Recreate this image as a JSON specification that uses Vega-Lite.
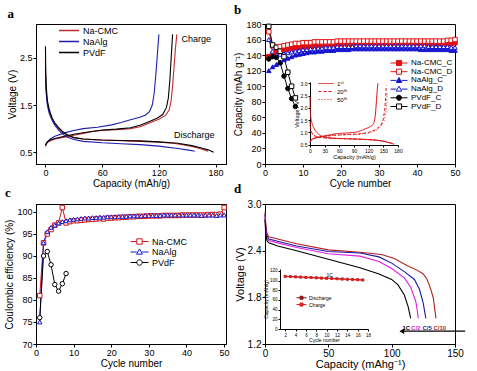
{
 "$schema": "https://vega.github.io/schema/vega-lite/v6.json",
 "background": "white",
 "padding": {"left": 4, "top": 3, "right": 2, "bottom": 2},
 "columns": 2,
 "spacing": {"row": 40, "column": 39},
 "bounds": "flush",
 "resolve": {
  "scale": {"stroke": "independent", "fill": "independent", "shape": "independent", "strokeDash": "independent", "color": "independent"},
  "legend": {"stroke": "independent", "fill": "independent", "shape": "independent", "strokeDash": "independent", "color": "independent"}
 },
 "config": {
  "font": "Liberation Sans",
  "view": {"stroke": "black", "strokeWidth": 1},
  "axis": {"grid": false, "domainColor": "black", "tickColor": "black", "labelColor": "black", "titleColor": "black", "labelFontSize": 9, "titleFontSize": 10, "titleFontWeight": "normal", "tickSize": 3, "labelPadding": 1, "titlePadding": 2, "labelFlush": false, "labelOverlap": false},
  "axisX": {"titlePadding": 1},
  "legend": {"labelColor": "black", "padding": 0, "titlePadding": 0},
  "title": {"anchor": "start", "font": "Liberation Serif", "fontWeight": "bold", "fontSize": 13, "offset": 3, "color": "black"}
 },
 "concat": [
  {
   "width": 190, "height": 140,
   "title": {"text": "a"},
   "layer": [
    {
     "data": {"values": [
      {"b":"Na-CMC","s":"D","x":0,"y":2.45},{"b":"Na-CMC","s":"D","x":0.3,"y":2.0},{"b":"Na-CMC","s":"D","x":1,"y":1.75},{"b":"Na-CMC","s":"D","x":2,"y":1.55},{"b":"Na-CMC","s":"D","x":4,"y":1.38},{"b":"Na-CMC","s":"D","x":7,"y":1.22},{"b":"Na-CMC","s":"D","x":10,"y":1.1},{"b":"Na-CMC","s":"D","x":14,"y":1.0},{"b":"Na-CMC","s":"D","x":18,"y":0.92},{"b":"Na-CMC","s":"D","x":23,"y":0.86},{"b":"Na-CMC","s":"D","x":30,"y":0.81},{"b":"Na-CMC","s":"D","x":40,"y":0.78},{"b":"Na-CMC","s":"D","x":55,"y":0.76},{"b":"Na-CMC","s":"D","x":75,"y":0.75},{"b":"Na-CMC","s":"D","x":100,"y":0.73},{"b":"Na-CMC","s":"D","x":120,"y":0.71},{"b":"Na-CMC","s":"D","x":135,"y":0.69},{"b":"Na-CMC","s":"D","x":145,"y":0.66},{"b":"Na-CMC","s":"D","x":155,"y":0.62},{"b":"Na-CMC","s":"D","x":165,"y":0.57},{"b":"Na-CMC","s":"D","x":172,"y":0.52},
      {"b":"Na-CMC","s":"C","x":0,"y":0.62},{"b":"Na-CMC","s":"C","x":1,"y":0.68},{"b":"Na-CMC","s":"C","x":3,"y":0.72},{"b":"Na-CMC","s":"C","x":6,"y":0.75},{"b":"Na-CMC","s":"C","x":10,"y":0.78},{"b":"Na-CMC","s":"C","x":20,"y":0.82},{"b":"Na-CMC","s":"C","x":30,"y":0.86},{"b":"Na-CMC","s":"C","x":40,"y":0.9},{"b":"Na-CMC","s":"C","x":50,"y":0.94},{"b":"Na-CMC","s":"C","x":60,"y":0.96},{"b":"Na-CMC","s":"C","x":75,"y":0.98},{"b":"Na-CMC","s":"C","x":90,"y":1.0},{"b":"Na-CMC","s":"C","x":100,"y":1.04},{"b":"Na-CMC","s":"C","x":110,"y":1.12},{"b":"Na-CMC","s":"C","x":120,"y":1.2},{"b":"Na-CMC","s":"C","x":127,"y":1.28},{"b":"Na-CMC","s":"C","x":131,"y":1.4},{"b":"Na-CMC","s":"C","x":133,"y":1.6},{"b":"Na-CMC","s":"C","x":134.5,"y":1.9},{"b":"Na-CMC","s":"C","x":136,"y":2.3},{"b":"Na-CMC","s":"C","x":137.5,"y":2.7},{"b":"Na-CMC","s":"C","x":139,"y":3.0},
      {"b":"NaAlg","s":"D","x":0,"y":2.3},{"b":"NaAlg","s":"D","x":0.3,"y":1.9},{"b":"NaAlg","s":"D","x":1,"y":1.7},{"b":"NaAlg","s":"D","x":2,"y":1.5},{"b":"NaAlg","s":"D","x":4,"y":1.32},{"b":"NaAlg","s":"D","x":7,"y":1.18},{"b":"NaAlg","s":"D","x":10,"y":1.07},{"b":"NaAlg","s":"D","x":14,"y":0.97},{"b":"NaAlg","s":"D","x":18,"y":0.89},{"b":"NaAlg","s":"D","x":23,"y":0.82},{"b":"NaAlg","s":"D","x":30,"y":0.77},{"b":"NaAlg","s":"D","x":40,"y":0.73},{"b":"NaAlg","s":"D","x":60,"y":0.7},{"b":"NaAlg","s":"D","x":80,"y":0.68},{"b":"NaAlg","s":"D","x":100,"y":0.66},{"b":"NaAlg","s":"D","x":120,"y":0.63},{"b":"NaAlg","s":"D","x":140,"y":0.58},{"b":"NaAlg","s":"D","x":150,"y":0.55},{"b":"NaAlg","s":"D","x":158,"y":0.52},
      {"b":"NaAlg","s":"C","x":0,"y":0.65},{"b":"NaAlg","s":"C","x":2,"y":0.72},{"b":"NaAlg","s":"C","x":5,"y":0.78},{"b":"NaAlg","s":"C","x":10,"y":0.84},{"b":"NaAlg","s":"C","x":20,"y":0.91},{"b":"NaAlg","s":"C","x":30,"y":0.96},{"b":"NaAlg","s":"C","x":40,"y":1.0},{"b":"NaAlg","s":"C","x":55,"y":1.03},{"b":"NaAlg","s":"C","x":70,"y":1.08},{"b":"NaAlg","s":"C","x":80,"y":1.13},{"b":"NaAlg","s":"C","x":90,"y":1.19},{"b":"NaAlg","s":"C","x":100,"y":1.24},{"b":"NaAlg","s":"C","x":106,"y":1.29},{"b":"NaAlg","s":"C","x":110,"y":1.36},{"b":"NaAlg","s":"C","x":113,"y":1.5},{"b":"NaAlg","s":"C","x":115,"y":1.75},{"b":"NaAlg","s":"C","x":117,"y":2.2},{"b":"NaAlg","s":"C","x":118.5,"y":2.6},{"b":"NaAlg","s":"C","x":120,"y":3.0},
      {"b":"PVdF","s":"D","x":0,"y":2.75},{"b":"PVdF","s":"D","x":0.3,"y":2.2},{"b":"PVdF","s":"D","x":1,"y":1.85},{"b":"PVdF","s":"D","x":2,"y":1.6},{"b":"PVdF","s":"D","x":4,"y":1.4},{"b":"PVdF","s":"D","x":7,"y":1.22},{"b":"PVdF","s":"D","x":10,"y":1.12},{"b":"PVdF","s":"D","x":14,"y":1.02},{"b":"PVdF","s":"D","x":18,"y":0.94},{"b":"PVdF","s":"D","x":23,"y":0.87},{"b":"PVdF","s":"D","x":30,"y":0.81},{"b":"PVdF","s":"D","x":40,"y":0.78},{"b":"PVdF","s":"D","x":60,"y":0.76},{"b":"PVdF","s":"D","x":80,"y":0.75},{"b":"PVdF","s":"D","x":100,"y":0.74},{"b":"PVdF","s":"D","x":120,"y":0.72},{"b":"PVdF","s":"D","x":140,"y":0.69},{"b":"PVdF","s":"D","x":155,"y":0.64},{"b":"PVdF","s":"D","x":165,"y":0.59},{"b":"PVdF","s":"D","x":172,"y":0.55},{"b":"PVdF","s":"D","x":178,"y":0.5},
      {"b":"PVdF","s":"C","x":0,"y":0.65},{"b":"PVdF","s":"C","x":2,"y":0.72},{"b":"PVdF","s":"C","x":5,"y":0.76},{"b":"PVdF","s":"C","x":10,"y":0.79},{"b":"PVdF","s":"C","x":20,"y":0.84},{"b":"PVdF","s":"C","x":30,"y":0.88},{"b":"PVdF","s":"C","x":45,"y":0.93},{"b":"PVdF","s":"C","x":60,"y":0.97},{"b":"PVdF","s":"C","x":75,"y":0.99},{"b":"PVdF","s":"C","x":90,"y":1.02},{"b":"PVdF","s":"C","x":100,"y":1.07},{"b":"PVdF","s":"C","x":110,"y":1.15},{"b":"PVdF","s":"C","x":118,"y":1.22},{"b":"PVdF","s":"C","x":124,"y":1.3},{"b":"PVdF","s":"C","x":128,"y":1.45},{"b":"PVdF","s":"C","x":130,"y":1.65},{"b":"PVdF","s":"C","x":131.5,"y":2.0},{"b":"PVdF","s":"C","x":133,"y":2.5},{"b":"PVdF","s":"C","x":134.5,"y":3.0}
     ]},
     "mark": {"type": "line", "strokeWidth": 1.1},
     "encoding": {
      "x": {"field": "x", "type": "quantitative", "scale": {"domain": [-10, 191], "nice": false, "zero": false}, "axis": {"values": [0,30,60,90,120,150,180], "title": "Capacity (mAh/g)"}},
      "y": {"field": "y", "type": "quantitative", "scale": {"domain": [0.25, 3.22], "nice": false, "zero": false}, "axis": {"values": [0.5,1.0,1.5,2.0,2.5,3.0], "format": ".1f", "title": "Voltage (V)"}},
      "stroke": {"field": "b", "type": "nominal", "scale": {"domain": ["Na-CMC","NaAlg","PVdF"], "range": ["#c42a2e","#1f1fae","#000000"]}, "legend": {"orient": "none", "legendX": 22, "legendY": 2, "title": null, "symbolType": "stroke", "symbolSize": 400, "symbolStrokeWidth": 1.5, "labelFontSize": 9, "clipHeight": 9, "rowPadding": 1, "labelOffset": 3}},
      "detail": {"field": "s"}
     }
    },
    {
     "data": {"values": [{"t": "Charge", "x": 144, "y": 2.9}, {"t": "Discharge", "x": 136, "y": 0.86}]},
     "mark": {"type": "text", "align": "left", "fontSize": 9, "color": "black"},
     "encoding": {
      "x": {"field": "x", "type": "quantitative"},
      "y": {"field": "y", "type": "quantitative"},
      "text": {"field": "t"}
     }
    }
   ]
  },
  {
   "width": 190, "height": 140,
   "title": {"text": "b"},
   "layer": [
    {
     "data": {"values": [
      {"n":1,"Na-CMC_C":138,"Na-CMC_D":170,"NaAlg_C":120,"NaAlg_D":160,"PVdF_C":135,"PVdF_D":177},
      {"n":2,"Na-CMC_C":141,"Na-CMC_D":152,"NaAlg_C":125,"NaAlg_D":145,"PVdF_C":138,"PVdF_D":153},
      {"n":3,"Na-CMC_C":144,"Na-CMC_D":150,"NaAlg_C":128,"NaAlg_D":140,"PVdF_C":137,"PVdF_D":150},
      {"n":4,"Na-CMC_C":146,"Na-CMC_D":151,"NaAlg_C":131,"NaAlg_D":141,"PVdF_C":130,"PVdF_D":145},
      {"n":5,"Na-CMC_C":147,"Na-CMC_D":152,"NaAlg_C":134,"NaAlg_D":142,"PVdF_C":113,"PVdF_D":138},
      {"n":6,"Na-CMC_C":148,"Na-CMC_D":153,"NaAlg_C":136,"NaAlg_D":143,"PVdF_C":97,"PVdF_D":118},
      {"n":7,"Na-CMC_C":149,"Na-CMC_D":154,"NaAlg_C":138,"NaAlg_D":144,"PVdF_C":84,"PVdF_D":100},
      {"n":8,"Na-CMC_C":150,"Na-CMC_D":155,"NaAlg_C":140,"NaAlg_D":145,"PVdF_C":74,"PVdF_D":85},
      {"n":9,"Na-CMC_C":150,"Na-CMC_D":155,"NaAlg_C":141,"NaAlg_D":146},
      {"n":10,"Na-CMC_C":151,"Na-CMC_D":156,"NaAlg_C":142,"NaAlg_D":147},
      {"n":11,"Na-CMC_C":151,"Na-CMC_D":156,"NaAlg_C":143,"NaAlg_D":147},
      {"n":12,"Na-CMC_C":152,"Na-CMC_D":156,"NaAlg_C":144,"NaAlg_D":148},
      {"n":13,"Na-CMC_C":152,"Na-CMC_D":157,"NaAlg_C":144,"NaAlg_D":148},
      {"n":14,"Na-CMC_C":152,"Na-CMC_D":157,"NaAlg_C":145,"NaAlg_D":149},
      {"n":15,"Na-CMC_C":153,"Na-CMC_D":157,"NaAlg_C":145,"NaAlg_D":149},
      {"n":16,"Na-CMC_C":153,"Na-CMC_D":157,"NaAlg_C":146,"NaAlg_D":150},
      {"n":17,"Na-CMC_C":153,"Na-CMC_D":157,"NaAlg_C":146,"NaAlg_D":150},
      {"n":18,"Na-CMC_C":153,"Na-CMC_D":157,"NaAlg_C":146,"NaAlg_D":150},
      {"n":19,"Na-CMC_C":154,"Na-CMC_D":158,"NaAlg_C":147,"NaAlg_D":151},
      {"n":20,"Na-CMC_C":154,"Na-CMC_D":158,"NaAlg_C":147,"NaAlg_D":151},
      {"n":21,"Na-CMC_C":154,"Na-CMC_D":158,"NaAlg_C":147,"NaAlg_D":151},
      {"n":22,"Na-CMC_C":154,"Na-CMC_D":158,"NaAlg_C":147,"NaAlg_D":151},
      {"n":23,"Na-CMC_C":154,"Na-CMC_D":158,"NaAlg_C":148,"NaAlg_D":151},
      {"n":24,"Na-CMC_C":154,"Na-CMC_D":158,"NaAlg_C":148,"NaAlg_D":152},
      {"n":25,"Na-CMC_C":154,"Na-CMC_D":158,"NaAlg_C":148,"NaAlg_D":152},
      {"n":26,"Na-CMC_C":154,"Na-CMC_D":158,"NaAlg_C":148,"NaAlg_D":152},
      {"n":27,"Na-CMC_C":154,"Na-CMC_D":158,"NaAlg_C":148,"NaAlg_D":152},
      {"n":28,"Na-CMC_C":155,"Na-CMC_D":158,"NaAlg_C":148,"NaAlg_D":152},
      {"n":29,"Na-CMC_C":155,"Na-CMC_D":158,"NaAlg_C":148,"NaAlg_D":152},
      {"n":30,"Na-CMC_C":155,"Na-CMC_D":158,"NaAlg_C":148,"NaAlg_D":152},
      {"n":31,"Na-CMC_C":155,"Na-CMC_D":158,"NaAlg_C":148,"NaAlg_D":152},
      {"n":32,"Na-CMC_C":155,"Na-CMC_D":158,"NaAlg_C":148,"NaAlg_D":152},
      {"n":33,"Na-CMC_C":155,"Na-CMC_D":158,"NaAlg_C":148,"NaAlg_D":152},
      {"n":34,"Na-CMC_C":155,"Na-CMC_D":158,"NaAlg_C":148,"NaAlg_D":152},
      {"n":35,"Na-CMC_C":155,"Na-CMC_D":158,"NaAlg_C":148,"NaAlg_D":152},
      {"n":36,"Na-CMC_C":155,"Na-CMC_D":158,"NaAlg_C":148,"NaAlg_D":152},
      {"n":37,"Na-CMC_C":155,"Na-CMC_D":158,"NaAlg_C":148,"NaAlg_D":152},
      {"n":38,"Na-CMC_C":155,"Na-CMC_D":158,"NaAlg_C":148,"NaAlg_D":152},
      {"n":39,"Na-CMC_C":155,"Na-CMC_D":158,"NaAlg_C":148,"NaAlg_D":152},
      {"n":40,"Na-CMC_C":155,"Na-CMC_D":158,"NaAlg_C":148,"NaAlg_D":152},
      {"n":41,"Na-CMC_C":155,"Na-CMC_D":158,"NaAlg_C":147,"NaAlg_D":152},
      {"n":42,"Na-CMC_C":155,"Na-CMC_D":158,"NaAlg_C":147,"NaAlg_D":152},
      {"n":43,"Na-CMC_C":155,"Na-CMC_D":158,"NaAlg_C":147,"NaAlg_D":151},
      {"n":44,"Na-CMC_C":155,"Na-CMC_D":158,"NaAlg_C":147,"NaAlg_D":151},
      {"n":45,"Na-CMC_C":155,"Na-CMC_D":158,"NaAlg_C":147,"NaAlg_D":151},
      {"n":46,"Na-CMC_C":155,"Na-CMC_D":158,"NaAlg_C":147,"NaAlg_D":151},
      {"n":47,"Na-CMC_C":155,"Na-CMC_D":158,"NaAlg_C":147,"NaAlg_D":151},
      {"n":48,"Na-CMC_C":155,"Na-CMC_D":159,"NaAlg_C":147,"NaAlg_D":151},
      {"n":49,"Na-CMC_C":155,"Na-CMC_D":159,"NaAlg_C":146,"NaAlg_D":150},
      {"n":50,"Na-CMC_C":156,"Na-CMC_D":160,"NaAlg_C":146,"NaAlg_D":150}
     ]},
     "transform": [
      {"fold": ["Na-CMC_C","Na-CMC_D","NaAlg_C","NaAlg_D","PVdF_C","PVdF_D"], "as": ["series", "cap"]},
      {"filter": "isValid(datum.cap)"}
     ],
     "encoding": {
      "x": {"field": "n", "type": "quantitative", "scale": {"domain": [0, 50], "nice": false}, "axis": {"values": [0,10,20,30,40,50], "title": "Cycle number"}},
      "y": {"field": "cap", "type": "quantitative", "scale": {"domain": [0, 180], "nice": false}, "axis": {"values": [0,20,40,60,80,100,120,140,160,180], "title": "Capacity (mAh g⁻¹)"}}
     },
     "layer": [
      {
       "mark": {"type": "line", "strokeWidth": 1},
       "encoding": {
        "stroke": {"field": "series", "type": "nominal", "scale": {"domain": ["Na-CMC_C","Na-CMC_D","NaAlg_C","NaAlg_D","PVdF_C","PVdF_D"], "range": ["#e01010","#e01010","#1515d0","#1515d0","#000000","#000000"]}, "legend": null}
       }
      },
      {
       "mark": {"type": "point", "opacity": 1, "strokeWidth": 1, "size": 20},
       "encoding": {
        "stroke": {"field": "series", "type": "nominal", "scale": {"domain": ["Na-CMC_C","Na-CMC_D","NaAlg_C","NaAlg_D","PVdF_C","PVdF_D"], "range": ["#e01010","#e01010","#1515d0","#1515d0","#000000","#000000"]}, "legend": null},
        "fill": {"field": "series", "type": "nominal", "scale": {"domain": ["Na-CMC_C","Na-CMC_D","NaAlg_C","NaAlg_D","PVdF_C","PVdF_D"], "range": ["#e01010","#ffffff","#1515d0","#ffffff","#000000","#ffffff"]}, "legend": null},
        "shape": {"field": "series", "type": "nominal", "scale": {"domain": ["Na-CMC_C","Na-CMC_D","NaAlg_C","NaAlg_D","PVdF_C","PVdF_D"], "range": ["square","square","triangle-up","triangle-up","circle","square"]}, "legend": null}
       }
      },
      {
       "transform": [{"filter": "false"}],
       "mark": {"type": "point", "opacity": 1, "strokeWidth": 1},
       "encoding": {
        "stroke": {"field": "series", "type": "nominal", "scale": {"domain": ["Na-CMC_C","Na-CMC_D","NaAlg_C","NaAlg_D","PVdF_C","PVdF_D"], "range": ["#e01010","#e01010","#1515d0","#1515d0","#000000","#000000"]},
         "legend": {"orient": "none", "legendX": 125, "legendY": 35, "title": null, "symbolSize": 289, "clipHeight": 8, "rowPadding": 0.7, "labelFontSize": 8, "labelOffset": 3, "symbolStrokeWidth": 1, "symbolOpacity": 1}},
        "fill": {"field": "series", "type": "nominal", "scale": {"domain": ["Na-CMC_C","Na-CMC_D","NaAlg_C","NaAlg_D","PVdF_C","PVdF_D"], "range": ["#e01010","#ffffff","#1515d0","#ffffff","#000000","#ffffff"]}},
        "shape": {"field": "series", "type": "nominal", "scale": {"domain": ["Na-CMC_C","Na-CMC_D","NaAlg_C","NaAlg_D","PVdF_C","PVdF_D"], "range": ["M-1,0H-0.3M0.3,0H1M-0.3,-0.3H0.3V0.3H-0.3Z","M-1,0H-0.3M0.3,0H1M-0.3,-0.3H0.3V0.3H-0.3Z","M-1,0H-0.3M0.3,0H1M0,-0.34L0.32,0.24H-0.32Z","M-1,0H-0.3M0.3,0H1M0,-0.34L0.32,0.24H-0.32Z","M-1,0H-0.3M0.3,0H1M-0.3,0A0.3,0.3 0 1,0 0.3,0A0.3,0.3 0 1,0 -0.3,0Z","M-1,0H-0.3M0.3,0H1M-0.3,-0.3H0.3V0.3H-0.3Z"]}}
       }
      }
     ],
     "resolve": {"scale": {"stroke": "independent", "fill": "independent", "shape": "independent"}}
    },
    {
     "data": {"values": [
      {"c":"1ˢᵗ","s":"D","x":0,"y":2.45},{"c":"1ˢᵗ","s":"D","x":0.3,"y":2.0},{"c":"1ˢᵗ","s":"D","x":1,"y":1.75},{"c":"1ˢᵗ","s":"D","x":2,"y":1.55},{"c":"1ˢᵗ","s":"D","x":4,"y":1.38},{"c":"1ˢᵗ","s":"D","x":7,"y":1.22},{"c":"1ˢᵗ","s":"D","x":10,"y":1.1},{"c":"1ˢᵗ","s":"D","x":14,"y":1.0},{"c":"1ˢᵗ","s":"D","x":18,"y":0.92},{"c":"1ˢᵗ","s":"D","x":23,"y":0.86},{"c":"1ˢᵗ","s":"D","x":30,"y":0.81},{"c":"1ˢᵗ","s":"D","x":40,"y":0.78},{"c":"1ˢᵗ","s":"D","x":55,"y":0.76},{"c":"1ˢᵗ","s":"D","x":75,"y":0.75},{"c":"1ˢᵗ","s":"D","x":100,"y":0.73},{"c":"1ˢᵗ","s":"D","x":120,"y":0.71},{"c":"1ˢᵗ","s":"D","x":135,"y":0.69},{"c":"1ˢᵗ","s":"D","x":145,"y":0.66},{"c":"1ˢᵗ","s":"D","x":155,"y":0.62},{"c":"1ˢᵗ","s":"D","x":165,"y":0.57},{"c":"1ˢᵗ","s":"D","x":172,"y":0.52},
      {"c":"1ˢᵗ","s":"C","x":0,"y":0.62},{"c":"1ˢᵗ","s":"C","x":1,"y":0.68},{"c":"1ˢᵗ","s":"C","x":3,"y":0.72},{"c":"1ˢᵗ","s":"C","x":6,"y":0.75},{"c":"1ˢᵗ","s":"C","x":10,"y":0.78},{"c":"1ˢᵗ","s":"C","x":20,"y":0.82},{"c":"1ˢᵗ","s":"C","x":30,"y":0.86},{"c":"1ˢᵗ","s":"C","x":40,"y":0.9},{"c":"1ˢᵗ","s":"C","x":50,"y":0.94},{"c":"1ˢᵗ","s":"C","x":60,"y":0.96},{"c":"1ˢᵗ","s":"C","x":75,"y":0.98},{"c":"1ˢᵗ","s":"C","x":90,"y":1.0},{"c":"1ˢᵗ","s":"C","x":100,"y":1.04},{"c":"1ˢᵗ","s":"C","x":110,"y":1.12},{"c":"1ˢᵗ","s":"C","x":120,"y":1.2},{"c":"1ˢᵗ","s":"C","x":127,"y":1.28},{"c":"1ˢᵗ","s":"C","x":131,"y":1.4},{"c":"1ˢᵗ","s":"C","x":133,"y":1.6},{"c":"1ˢᵗ","s":"C","x":134.5,"y":1.9},{"c":"1ˢᵗ","s":"C","x":136,"y":2.3},{"c":"1ˢᵗ","s":"C","x":137.5,"y":2.7},{"c":"1ˢᵗ","s":"C","x":139,"y":3.0},
      {"c":"20ᵗʰ","s":"D","x":0,"y":1.45},{"c":"20ᵗʰ","s":"D","x":1,"y":1.2},{"c":"20ᵗʰ","s":"D","x":3,"y":1.02},{"c":"20ᵗʰ","s":"D","x":6,"y":0.92},{"c":"20ᵗʰ","s":"D","x":10,"y":0.86},{"c":"20ᵗʰ","s":"D","x":20,"y":0.8},{"c":"20ᵗʰ","s":"D","x":35,"y":0.77},{"c":"20ᵗʰ","s":"D","x":60,"y":0.75},{"c":"20ᵗʰ","s":"D","x":90,"y":0.73},{"c":"20ᵗʰ","s":"D","x":120,"y":0.71},{"c":"20ᵗʰ","s":"D","x":140,"y":0.68},{"c":"20ᵗʰ","s":"D","x":155,"y":0.63},{"c":"20ᵗʰ","s":"D","x":165,"y":0.57},{"c":"20ᵗʰ","s":"D","x":170,"y":0.53},
      {"c":"20ᵗʰ","s":"C","x":0,"y":0.6},{"c":"20ᵗʰ","s":"C","x":3,"y":0.7},{"c":"20ᵗʰ","s":"C","x":10,"y":0.76},{"c":"20ᵗʰ","s":"C","x":25,"y":0.83},{"c":"20ᵗʰ","s":"C","x":50,"y":0.89},{"c":"20ᵗʰ","s":"C","x":80,"y":0.92},{"c":"20ᵗʰ","s":"C","x":100,"y":0.94},{"c":"20ᵗʰ","s":"C","x":120,"y":1.0},{"c":"20ᵗʰ","s":"C","x":135,"y":1.12},{"c":"20ᵗʰ","s":"C","x":145,"y":1.3},{"c":"20ᵗʰ","s":"C","x":150,"y":1.55},{"c":"20ᵗʰ","s":"C","x":153,"y":1.95},{"c":"20ᵗʰ","s":"C","x":155,"y":2.5},{"c":"20ᵗʰ","s":"C","x":156,"y":2.9},
      {"c":"50ᵗʰ","s":"D","x":0,"y":1.3},{"c":"50ᵗʰ","s":"D","x":1,"y":1.1},{"c":"50ᵗʰ","s":"D","x":3,"y":0.97},{"c":"50ᵗʰ","s":"D","x":6,"y":0.9},{"c":"50ᵗʰ","s":"D","x":10,"y":0.85},{"c":"50ᵗʰ","s":"D","x":20,"y":0.8},{"c":"50ᵗʰ","s":"D","x":35,"y":0.77},{"c":"50ᵗʰ","s":"D","x":60,"y":0.75},{"c":"50ᵗʰ","s":"D","x":90,"y":0.73},{"c":"50ᵗʰ","s":"D","x":120,"y":0.71},{"c":"50ᵗʰ","s":"D","x":140,"y":0.68},{"c":"50ᵗʰ","s":"D","x":155,"y":0.63},{"c":"50ᵗʰ","s":"D","x":165,"y":0.58},{"c":"50ᵗʰ","s":"D","x":172,"y":0.53},
      {"c":"50ᵗʰ","s":"C","x":0,"y":0.6},{"c":"50ᵗʰ","s":"C","x":3,"y":0.7},{"c":"50ᵗʰ","s":"C","x":10,"y":0.77},{"c":"50ᵗʰ","s":"C","x":25,"y":0.84},{"c":"50ᵗʰ","s":"C","x":50,"y":0.89},{"c":"50ᵗʰ","s":"C","x":80,"y":0.91},{"c":"50ᵗʰ","s":"C","x":100,"y":0.93},{"c":"50ᵗʰ","s":"C","x":120,"y":0.98},{"c":"50ᵗʰ","s":"C","x":135,"y":1.08},{"c":"50ᵗʰ","s":"C","x":145,"y":1.25},{"c":"50ᵗʰ","s":"C","x":152,"y":1.5},{"c":"50ᵗʰ","s":"C","x":155,"y":1.8},{"c":"50ᵗʰ","s":"C","x":157,"y":2.2},{"c":"50ᵗʰ","s":"C","x":158,"y":2.6}
     ]},
     "mark": {"type": "line", "strokeWidth": 1, "color": "#e01010"},
     "encoding": {
      "x": {"field": "x", "type": "quantitative", "scale": {"domain": [0, 180], "range": [45, 133], "nice": false}, "axis": {"orient": "bottom", "offset": -19, "values": [0,30,60,90,120,150,180], "labelFontSize": 5, "title": "Capacity (mAh/g)", "titleFontSize": 5.5, "tickSize": 2, "labelPadding": 1, "titlePadding": 1}},
      "y": {"field": "y", "type": "quantitative", "scale": {"domain": [0.45, 3.05], "range": [122, 58], "nice": false, "zero": false}, "axis": {"orient": "left", "offset": -45, "values": [0.5,1.0,1.5,2.0,2.5,3.0], "format": ".1f", "labelFontSize": 5, "title": "Voltage / V", "titleFontSize": 5.5, "tickSize": 2, "labelPadding": 1, "titlePadding": 1}},
      "strokeDash": {"field": "c", "type": "nominal", "scale": {"domain": ["1ˢᵗ","20ᵗʰ","50ᵗʰ"], "range": [[1,0],[3,2],[1,2]]}, "legend": {"orient": "none", "legendX": 53, "legendY": 56, "title": null, "symbolType": "stroke", "symbolSize": 225, "symbolStrokeColor": "#e01010", "symbolStrokeWidth": 1, "labelFontSize": 6, "clipHeight": 7, "rowPadding": 1, "labelOffset": 3}},
      "detail": {"field": "s"}
     }
    }
   ],
   "resolve": {"scale": {"x": "independent", "y": "independent", "stroke": "independent", "fill": "independent", "shape": "independent"}, "axis": {"x": "independent", "y": "independent"}}
  },
  {
   "width": 190, "height": 140,
   "title": {"text": "c"},
   "data": {"values": [
    {"n":1,"Na-CMC":81,"NaAlg":75,"PVdF":76},{"n":2,"Na-CMC":93,"NaAlg":93,"PVdF":90},{"n":3,"Na-CMC":95,"NaAlg":95.5,"PVdF":91},{"n":4,"Na-CMC":96,"NaAlg":96.5,"PVdF":88},{"n":5,"Na-CMC":97,"NaAlg":97,"PVdF":83.5},{"n":6,"Na-CMC":97.5,"NaAlg":97.5,"PVdF":82},{"n":7,"Na-CMC":101,"NaAlg":97.8,"PVdF":83.7},{"n":8,"Na-CMC":97.5,"NaAlg":98,"PVdF":86},
    {"n":9,"Na-CMC":97.8,"NaAlg":98.2},{"n":10,"Na-CMC":98,"NaAlg":98.3},{"n":11,"Na-CMC":98,"NaAlg":98.4},{"n":12,"Na-CMC":98.1,"NaAlg":98.5},{"n":13,"Na-CMC":98.2,"NaAlg":98.6},{"n":14,"Na-CMC":98.3,"NaAlg":98.6},{"n":15,"Na-CMC":98.3,"NaAlg":98.7},{"n":16,"Na-CMC":98.4,"NaAlg":98.7},{"n":17,"Na-CMC":98.5,"NaAlg":98.8},{"n":18,"Na-CMC":98.4,"NaAlg":98.8},{"n":19,"Na-CMC":98.6,"NaAlg":98.9},{"n":20,"Na-CMC":98.6,"NaAlg":98.9},
    {"n":21,"Na-CMC":98.7,"NaAlg":98.9},{"n":22,"Na-CMC":98.7,"NaAlg":99},{"n":23,"Na-CMC":98.8,"NaAlg":99},{"n":24,"Na-CMC":98.8,"NaAlg":99},{"n":25,"Na-CMC":98.9,"NaAlg":99.1},{"n":26,"Na-CMC":98.9,"NaAlg":99.1},{"n":27,"Na-CMC":99,"NaAlg":99.1},{"n":28,"Na-CMC":99,"NaAlg":99.1},{"n":29,"Na-CMC":99,"NaAlg":99.2},{"n":30,"Na-CMC":99.1,"NaAlg":99.2},
    {"n":31,"Na-CMC":99.1,"NaAlg":99.2},{"n":32,"Na-CMC":99.1,"NaAlg":99.2},{"n":33,"Na-CMC":99.1,"NaAlg":99.2},{"n":34,"Na-CMC":99.2,"NaAlg":99.3},{"n":35,"Na-CMC":99.2,"NaAlg":99.3},{"n":36,"Na-CMC":99.2,"NaAlg":99.3},{"n":37,"Na-CMC":99.2,"NaAlg":99.3},{"n":38,"Na-CMC":99.2,"NaAlg":99.3},{"n":39,"Na-CMC":99.3,"NaAlg":99.3},{"n":40,"Na-CMC":99.3,"NaAlg":99.3},
    {"n":41,"Na-CMC":99.3,"NaAlg":99.3},{"n":42,"Na-CMC":99.3,"NaAlg":99.3},{"n":43,"Na-CMC":99.3,"NaAlg":99.3},{"n":44,"Na-CMC":99.3,"NaAlg":99.2},{"n":45,"Na-CMC":99.3,"NaAlg":99.3},{"n":46,"Na-CMC":99.4,"NaAlg":99.3},{"n":47,"Na-CMC":99.4,"NaAlg":99.3},{"n":48,"Na-CMC":99.4,"NaAlg":99.2},{"n":49,"Na-CMC":99.5,"NaAlg":99.3},{"n":50,"Na-CMC":101,"NaAlg":99.3}
   ]},
   "transform": [
    {"fold": ["Na-CMC","NaAlg","PVdF"], "as": ["series", "ce"]},
    {"filter": "isValid(datum.ce)"}
   ],
   "encoding": {
    "x": {"field": "n", "type": "quantitative", "scale": {"domain": [0, 50.5], "nice": false}, "axis": {"values": [0,10,20,30,40,50], "title": "Cycle number"}},
    "y": {"field": "ce", "type": "quantitative", "scale": {"domain": [70, 101.8], "nice": false, "zero": false}, "axis": {"values": [70,75,80,85,90,95,100], "title": "Coulombic efficiency (%)"}}
   },
   "layer": [
    {
     "mark": {"type": "line", "strokeWidth": 1},
     "encoding": {
      "stroke": {"field": "series", "type": "nominal", "scale": {"domain": ["Na-CMC","NaAlg","PVdF"], "range": ["#d01818","#1515d0","#000000"]}, "legend": null}
     }
    },
    {
     "mark": {"type": "point", "opacity": 1, "strokeWidth": 1, "size": 20, "fill": "white"},
     "encoding": {
      "stroke": {"field": "series", "type": "nominal", "scale": {"domain": ["Na-CMC","NaAlg","PVdF"], "range": ["#d01818","#1515d0","#000000"]}, "legend": null},
      "shape": {"field": "series", "type": "nominal", "scale": {"domain": ["Na-CMC","NaAlg","PVdF"], "range": ["square","triangle-up","circle"]}, "legend": null}
     }
    },
    {
     "transform": [{"filter": "false"}],
     "mark": {"type": "point", "opacity": 1, "strokeWidth": 1, "fill": "white"},
     "encoding": {
      "stroke": {"field": "series", "type": "nominal", "scale": {"domain": ["Na-CMC","NaAlg","PVdF"], "range": ["#d01818","#1515d0","#000000"]},
       "legend": {"orient": "none", "legendX": 94, "legendY": 33, "title": null, "symbolSize": 324, "clipHeight": 9, "rowPadding": 0.5, "labelFontSize": 9, "labelOffset": 3, "symbolStrokeWidth": 1, "symbolOpacity": 1}},
      "shape": {"field": "series", "type": "nominal", "scale": {"domain": ["Na-CMC","NaAlg","PVdF"], "range": ["M-1,0H-0.3M0.3,0H1M-0.3,-0.3H0.3V0.3H-0.3Z","M-1,0H-0.3M0.3,0H1M0,-0.34L0.32,0.24H-0.32Z","M-1,0H-0.3M0.3,0H1M-0.3,0A0.3,0.3 0 1,0 0.3,0A0.3,0.3 0 1,0 -0.3,0Z"]}}
     }
    }
   ],
   "resolve": {"scale": {"stroke": "independent", "shape": "independent"}}
  },
  {
   "width": 190, "height": 140,
   "title": {"text": "d"},
   "layer": [
    {
     "layer": [
      {
       "data": {"values": [
        {"r":"C/10","x":0,"y":2.9},{"r":"C/10","x":0.5,"y":2.76},{"r":"C/10","x":1.5,"y":2.62},{"r":"C/10","x":3,"y":2.58},{"r":"C/10","x":10,"y":2.55},{"r":"C/10","x":25,"y":2.49},{"r":"C/10","x":50,"y":2.41},{"r":"C/10","x":75,"y":2.38},{"r":"C/10","x":92,"y":2.35},{"r":"C/10","x":102,"y":2.3},{"r":"C/10","x":112,"y":2.21},{"r":"C/10","x":120,"y":2.15},{"r":"C/10","x":125,"y":2.1},{"r":"C/10","x":128,"y":2.03},{"r":"C/10","x":131,"y":1.9},{"r":"C/10","x":133,"y":1.78},{"r":"C/10","x":134,"y":1.65},{"r":"C/10","x":135,"y":1.53},
        {"r":"C/5","x":0,"y":2.87},{"r":"C/5","x":0.5,"y":2.72},{"r":"C/5","x":1.5,"y":2.59},{"r":"C/5","x":3,"y":2.55},{"r":"C/5","x":10,"y":2.52},{"r":"C/5","x":25,"y":2.46},{"r":"C/5","x":50,"y":2.39},{"r":"C/5","x":75,"y":2.37},{"r":"C/5","x":90,"y":2.32},{"r":"C/5","x":100,"y":2.24},{"r":"C/5","x":110,"y":2.13},{"r":"C/5","x":118,"y":2.03},{"r":"C/5","x":122,"y":1.9},{"r":"C/5","x":125,"y":1.72},{"r":"C/5","x":126,"y":1.62},{"r":"C/5","x":127,"y":1.53},
        {"r":"C/2","x":0,"y":2.84},{"r":"C/2","x":0.5,"y":2.68},{"r":"C/2","x":1.5,"y":2.56},{"r":"C/2","x":3,"y":2.53},{"r":"C/2","x":10,"y":2.5},{"r":"C/2","x":25,"y":2.44},{"r":"C/2","x":50,"y":2.36},{"r":"C/2","x":75,"y":2.33},{"r":"C/2","x":90,"y":2.26},{"r":"C/2","x":100,"y":2.17},{"r":"C/2","x":110,"y":2.05},{"r":"C/2","x":115,"y":1.93},{"r":"C/2","x":119,"y":1.75},{"r":"C/2","x":120,"y":1.65},{"r":"C/2","x":121,"y":1.53},
        {"r":"1C","x":0,"y":2.8},{"r":"1C","x":0.5,"y":2.64},{"r":"1C","x":1.5,"y":2.53},{"r":"1C","x":3,"y":2.5},{"r":"1C","x":10,"y":2.46},{"r":"1C","x":25,"y":2.4},{"r":"1C","x":50,"y":2.29},{"r":"1C","x":75,"y":2.18},{"r":"1C","x":90,"y":2.1},{"r":"1C","x":100,"y":2.03},{"r":"1C","x":105,"y":1.96},{"r":"1C","x":110,"y":1.83},{"r":"1C","x":113,"y":1.68},{"r":"1C","x":115,"y":1.53}
       ]},
       "mark": {"type": "line", "strokeWidth": 1.1},
       "encoding": {
        "x": {"field": "x", "type": "quantitative", "scale": {"domain": [0, 150], "nice": false}, "axis": {"values": [0,25,50,75,100,125,150], "title": "Capacity (mAhg⁻¹)", "labelFontSize": 10, "titleFontSize": 11, "titlePadding": 0}},
        "y": {"field": "y", "type": "quantitative", "scale": {"domain": [1.2, 3.0], "nice": false, "zero": false}, "axis": {"values": [1.2,1.5,1.8,2.1,2.4,2.7,3.0], "format": ".1f", "title": "Voltage (V)", "labelFontSize": 10, "titleFontSize": 11}},
        "stroke": {"field": "r", "type": "nominal", "scale": {"domain": ["C/10","C/5","C/2","1C"], "range": ["#b41e1e","#1a1aa0","#e020e0","#000000"]}, "legend": null}
       }
      },
      {
       "data": {"values": [{"t":"1C","x":111.5,"y":1.41},{"t":"C/2","x":119,"y":1.41},{"t":"C/5","x":128,"y":1.41},{"t":"C/10","x":138,"y":1.41}]},
       "mark": {"type": "text", "fontSize": 6, "fontWeight": "bold"},
       "encoding": {
        "x": {"field": "x", "type": "quantitative"},
        "y": {"field": "y", "type": "quantitative"},
        "text": {"field": "t"},
        "color": {"field": "t", "type": "nominal", "scale": {"domain": ["C/10","C/5","C/2","1C"], "range": ["#b41e1e","#1a1aa0","#e020e0","#000000"]}, "legend": null}
       }
      },
      {
       "data": {"values": [{"x":109,"x2":158,"y":1.365}]},
       "mark": {"type": "rule", "color": "black", "strokeWidth": 1.2},
       "encoding": {
        "x": {"field": "x", "type": "quantitative"},
        "x2": {"field": "x2"},
        "y": {"field": "y", "type": "quantitative"}
       }
      },
      {
       "data": {"values": [{"x":108,"y":1.365}]},
       "mark": {"type": "point", "shape": "triangle-left", "filled": true, "color": "black", "size": 30, "opacity": 1},
       "encoding": {
        "x": {"field": "x", "type": "quantitative"},
        "y": {"field": "y", "type": "quantitative"}
       }
      }
     ]
    },
    {
     "data": {"values": [
      {"n":2,"Discharge":109,"Charge":108.5},{"n":3,"Discharge":108.5,"Charge":108},{"n":4,"Discharge":108,"Charge":107.5},{"n":5,"Discharge":107.5,"Charge":107},{"n":6,"Discharge":107,"Charge":106.5},{"n":7,"Discharge":106.5,"Charge":106},{"n":8,"Discharge":106,"Charge":105.5},{"n":9,"Discharge":105.5,"Charge":105},{"n":10,"Discharge":105,"Charge":104.5},{"n":11,"Discharge":104.5,"Charge":104},{"n":12,"Discharge":104,"Charge":103.5},{"n":13,"Discharge":103.5,"Charge":103},{"n":14,"Discharge":103,"Charge":102.5},{"n":15,"Discharge":102.5,"Charge":102},{"n":16,"Discharge":102,"Charge":101.5},{"n":17,"Discharge":101.5,"Charge":101}
     ]},
     "transform": [{"fold": ["Discharge","Charge"], "as": ["series","cap"]}],
     "encoding": {
      "x": {"field": "n", "type": "quantitative", "scale": {"domain": [1, 18], "range": [15, 103], "nice": false}, "axis": {"orient": "bottom", "offset": -15, "values": [2,4,6,8,10,12,14,16,18], "labelFontSize": 4.5, "title": "Cycle number", "titleFontSize": 5, "tickSize": 2, "labelPadding": 1, "titlePadding": 1}},
      "y": {"field": "cap", "type": "quantitative", "scale": {"domain": [0, 124], "range": [125, 65], "nice": false}, "axis": {"orient": "left", "offset": -15, "values": [0,20,40,60,80,100,120], "labelFontSize": 4.5, "title": "Capacity (mAh/g)", "titleFontSize": 5, "tickSize": 2, "labelPadding": 1, "titlePadding": 1}}
     },
     "layer": [
      {
       "mark": {"type": "line", "strokeWidth": 1},
       "encoding": {
        "stroke": {"field": "series", "type": "nominal", "scale": {"domain": ["Discharge","Charge"], "range": ["#8b1a1a","#e02020"]}, "legend": null}
       }
      },
      {
       "mark": {"type": "point", "shape": "square", "filled": true, "size": 7, "opacity": 1},
       "encoding": {
        "fill": {"field": "series", "type": "nominal", "scale": {"domain": ["Discharge","Charge"], "range": ["#8b1a1a","#e02020"]}, "legend": null}
       }
      },
      {
       "transform": [{"filter": "false"}],
       "mark": {"type": "point", "shape": "M-1,0H1M-0.3,-0.3H0.3V0.3H-0.3Z", "opacity": 1, "strokeWidth": 1},
       "encoding": {
        "stroke": {"field": "series", "type": "nominal", "scale": {"domain": ["Discharge","Charge"], "range": ["#8b1a1a","#e02020"]},
         "legend": {"orient": "none", "legendX": 31, "legendY": 91, "title": null, "symbolSize": 100, "clipHeight": 5.5, "rowPadding": 0.8, "labelFontSize": 5, "labelOffset": 2, "symbolOpacity": 1, "symbolStrokeWidth": 1}},
        "fill": {"field": "series", "type": "nominal", "scale": {"domain": ["Discharge","Charge"], "range": ["#8b1a1a","#e02020"]}}
       }
      },
      {
       "data": {"values": [{"t":"1C","n":10.6,"cap":112}]},
       "mark": {"type": "text", "fontSize": 5, "color": "black"},
       "encoding": {"text": {"field": "t"}}
      }
     ],
     "resolve": {"scale": {"stroke": "independent", "fill": "independent"}}
    }
   ],
   "resolve": {"scale": {"x": "independent", "y": "independent", "stroke": "independent", "color": "independent", "fill": "independent"}, "axis": {"x": "independent", "y": "independent"}}
  }
 ]
}
